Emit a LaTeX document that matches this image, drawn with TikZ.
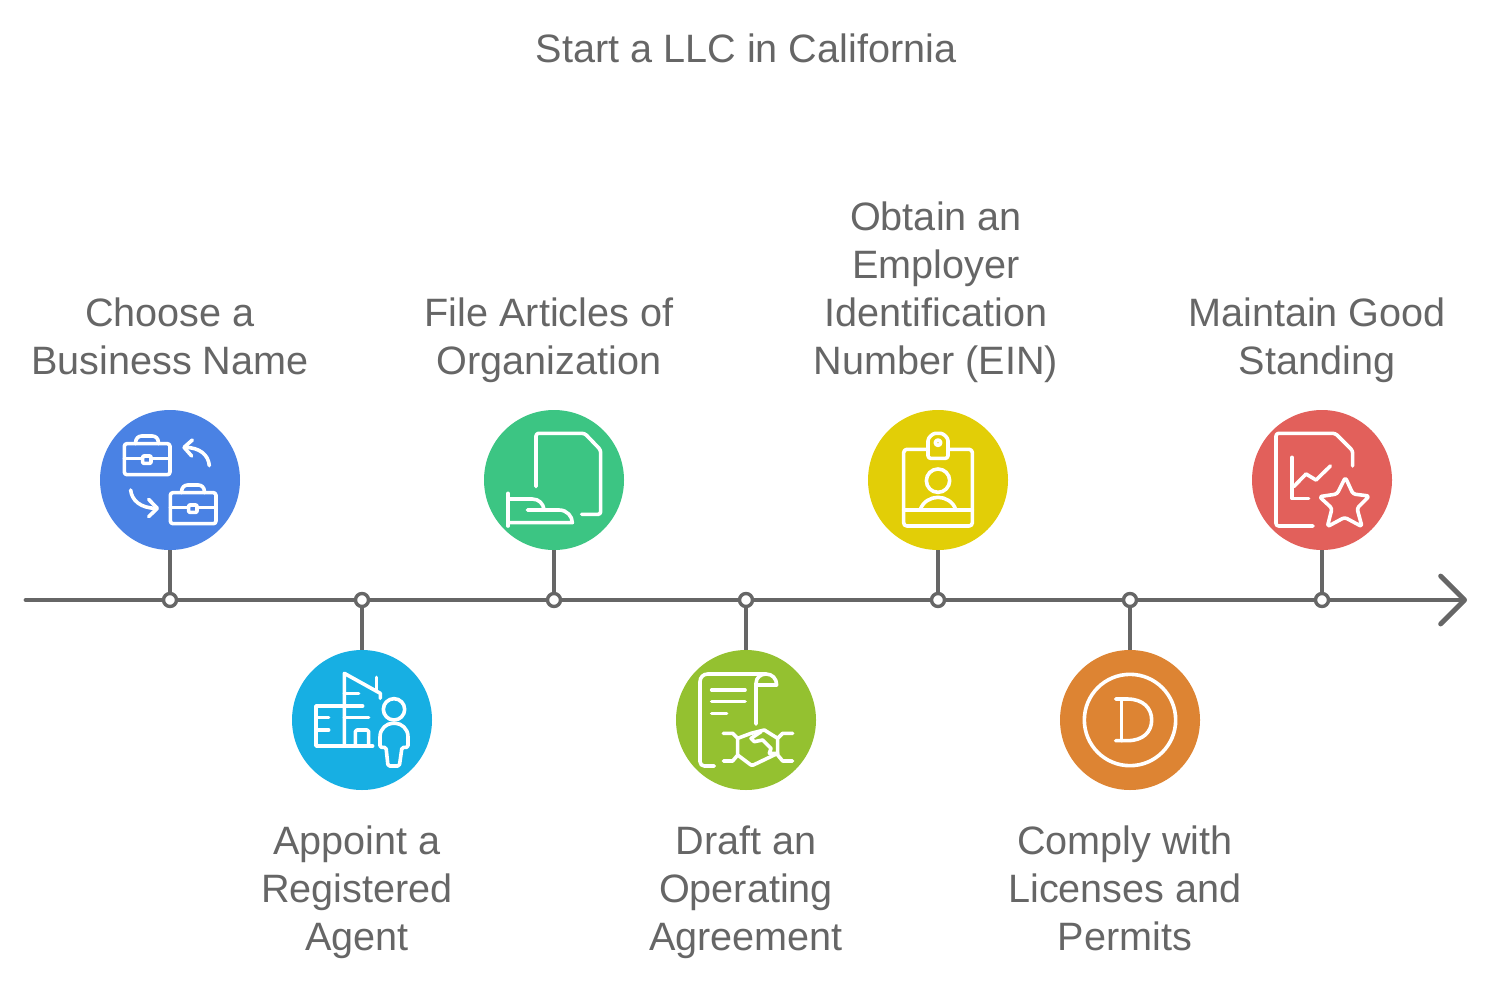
\documentclass[tikz,border=0pt]{standalone}
\usepackage{fontspec}
\setmainfont{Liberation Sans}
\usetikzlibrary{arrows.meta, positioning}

\definecolor{inkgray}{HTML}{666666}
\definecolor{cblue}{HTML}{4A82E4}
\definecolor{ccyan}{HTML}{17AFE3}
\definecolor{cgreen}{HTML}{3CC583}
\definecolor{clime}{HTML}{94C130}
\definecolor{cyellow}{HTML}{E2CE07}
\definecolor{corange}{HTML}{DD8433}
\definecolor{cred}{HTML}{E2605B}

\tikzset{
	briefcase/.pic={
		\draw[rounded corners=1.3pt] (103,131) rectangle (240,224);
		\draw[rounded corners=3pt] (137,131) -- (137,108) -- (205,108) -- (205,131);
		\draw (103,176) -- (158,176) (185,176) -- (240,176);
		\draw[rounded corners=.5pt] (158,168) rectangle (183,190);
	},
}

\begin{document}
\begin{tikzpicture}[
		x=.5pt, y=-.5pt,
		stepdisc/.style={circle, minimum size=70pt, inner sep=0pt},
		stepdot/.style={circle, draw=inkgray, fill=white, line width=1.7pt, minimum size=6.5pt, inner sep=0pt},
		stem/.style={draw=inkgray, line width=2.4pt},
		steplabel/.style={text=inkgray, align=center, inner sep=0pt,
				font=\fontsize{19.8}{24}\selectfont,
				execute at begin node=\strut, execute at end node=\strut},
		iconbox/.style={shift={(#1.center)}, xshift=-40pt, yshift=40pt, x=.16667pt, y=-.16667pt,
				white, line width=1.8pt, line cap=round, line join=round},
	]
	\useasboundingbox (0,0) rectangle (1492,984);

	% -- axis --

	\coordinate (axisstart) at (26,600);
	\coordinate (axisend) at (1467,600);
	\draw[line width=2.4pt, inkgray, line cap=round, -{Straight Barb[length=12pt,width=24pt,round]}] (axisstart) -- (axisend);

	% -- all steps --

	\node [stepdisc,fill=cblue] (dname) at (170,480) {};
	\node [stepdisc,fill=ccyan] (dagent) at (362,720) {};
	\node [stepdisc,fill=cgreen] (darticles) at (554,480) {};
	\node [stepdisc,fill=clime] (dagree) at (746,720) {};
	\node [stepdisc,fill=cyellow] (dein) at (938,480) {};
	\node [stepdisc,fill=corange] (dlicense) at (1130,720) {};
	\node [stepdisc,fill=cred] (dgood) at (1322,480) {};

	\node [stepdot] (tname) at (170,600) {};
	\node [stepdot] (tagent) at (362,600) {};
	\node [stepdot] (tarticles) at (554,600) {};
	\node [stepdot] (tagree) at (746,600) {};
	\node [stepdot] (tein) at (938,600) {};
	\node [stepdot] (tlicense) at (1130,600) {};
	\node [stepdot] (tgood) at (1322,600) {};

	\draw[stem] (dname) -- (tname);
	\draw[stem] (dagent) -- (tagent);
	\draw[stem] (darticles) -- (tarticles);
	\draw[stem] (dagree) -- (tagree);
	\draw[stem] (dein) -- (tein);
	\draw[stem] (dlicense) -- (tlicense);
	\draw[stem] (dgood) -- (tgood);

	% -- labels --

	\node [steplabel] (title) at (746,53) {Start a LLC in California};
	\node [steplabel,above=10pt of dname] (lname) {Choose a \\ Business Name};
	\node [steplabel,below=17.5pt of dagent,xshift=-2.5pt] (lagent) {Appoint a \\ Registered \\ Agent};
	\node [steplabel,above=10pt of darticles,xshift=-2.5pt] (larticles) {File Articles of \\ Organization};
	\node [steplabel,below=17.5pt of dagree] (lagree) {Draft an \\ Operating \\ Agreement};
	\node [steplabel,above=10pt of dein,xshift=-1pt] (lein) {Obtain an \\ Employer \\ Identification \\ Number (EIN)};
	\node [steplabel,below=17.5pt of dlicense,xshift=-2.5pt] (llicense) {Comply with \\ Licenses and \\ Permits};
	\node [steplabel,above=10pt of dgood,xshift=-2.5pt] (lgood) {Maintain Good \\ Standing};

	% -- icons --

	\begin{scope}[iconbox=dname]
		\pic {briefcase};
		\pic at (138,147) {briefcase};
		\draw (358,197) .. controls (355,165) and (330,142) .. (283,142);
		\draw (307,120) -- (282,142) -- (305,168);
		\draw (122,270) .. controls (125,300) and (150,325) .. (200,325);
		\draw (176,298) -- (202,325) -- (176,350);
	\end{scope}

	\begin{scope}[iconbox=dagent]
		\draw (187,315) -- (187,100) -- (295,160) -- (295,175);
		\draw (283,112) -- (283,150);
		\draw (187,198) -- (102,198) -- (102,318) -- (272,318);
		\draw (187,160) -- (230,160) (187,198) -- (242,198) (187,233) -- (260,233);
		\draw (102,233) -- (140,233) (102,270) -- (140,270);
		\draw[rounded corners=.8pt] (220,318) -- (220,270) -- (260,270) -- (260,318);
		\draw (336,208) circle (32);
		\draw[rounded corners=.8pt] (318,378) -- (312,322) -- (294,322) -- (294,295)
			.. controls (294,265) and (315,250) .. (336,250)
			.. controls (357,250) and (378,265) .. (378,295)
			-- (378,322) -- (360,322) -- (352,378) -- cycle;
	\end{scope}

	\begin{scope}[iconbox=darticles]
		\draw[rounded corners=1.3pt] (186,260) -- (186,100) -- (332,100) -- (380,150) -- (380,343) -- (323,343);
		\draw (102,280) -- (102,378);
		\draw (102,297) -- (175,297) .. controls (195,297) and (208,312) .. (210,328);
		\draw (160,330) -- (255,330) .. controls (280,330) and (295,350) .. (295,368) -- (102,368);
	\end{scope}

	\begin{scope}[iconbox=dagree]
		\draw (145,378) -- (115,378) .. controls (108,378) and (102,372) .. (102,365)
			-- (102,125) .. controls (102,112) and (112,102) .. (125,102) -- (300,102);
		\draw (270,252) -- (270,130) .. controls (270,112) and (285,102) .. (300,102)
			.. controls (318,102) and (332,115) .. (332,135) -- (270,135);
		\draw (137,150) -- (237,150) (137,185) -- (237,185) (137,220) -- (182,220);
		\draw (172,280) -- (200,280) -- (215,295) -- (215,345) -- (200,363) -- (172,363);
		\draw (380,280) -- (350,280) -- (335,295) -- (335,345) -- (350,363) -- (380,363);
		\draw (215,295) -- (255,280) -- (295,270) -- (335,295);
		\draw (215,345) -- (255,375) -- (262,375) -- (335,340);
		\draw (285,275) -- (255,295) -- (265,305) -- (290,300) -- (315,325) -- (310,340) -- (335,340);
	\end{scope}

	\begin{scope}[iconbox=dein]
		\draw[rounded corners=1.6pt] (137,148) rectangle (343,378);
		\draw (137,330) -- (343,330);
		\draw[rounded corners=1.3pt,fill=cyellow] (210,175) -- (210,130)
			.. controls (210,112) and (225,100) .. (240,100)
			.. controls (255,100) and (270,112) .. (270,130) -- (270,175) -- cycle;
		\draw (240,128) circle (8);
		\draw (240,242) circle (35);
		\draw (187,328) .. controls (195,305) and (218,292) .. (240,292) .. controls (262,292) and (285,305) .. (293,328);
	\end{scope}

	\begin{scope}[iconbox=dlicense]
		\draw (240,240) circle (137);
		\draw (197,177) -- (232,177) .. controls (280,177) and (305,205) .. (305,240)
			.. controls (305,275) and (280,302) .. (232,302) -- (197,302);
		\draw (215,177) -- (215,302);
	\end{scope}

	\begin{scope}[iconbox=dgood]
		\draw[rounded corners=1.3pt] (213,378) -- (102,378) -- (102,100) -- (280,100) -- (332,152) -- (332,198);
		\draw (150,172) -- (150,295) -- (200,295);
		\draw (155,260) -- (192,222) -- (222,240) -- (265,198);
		\draw[rounded corners=1.3pt] (310,232) -- (333,282) -- (382,288) -- (345,325) -- (360,380)
			-- (308,352) -- (256,380) -- (270,325) -- (232,290) -- (285,282) -- cycle;
	\end{scope}
\end{tikzpicture}
\end{document}
